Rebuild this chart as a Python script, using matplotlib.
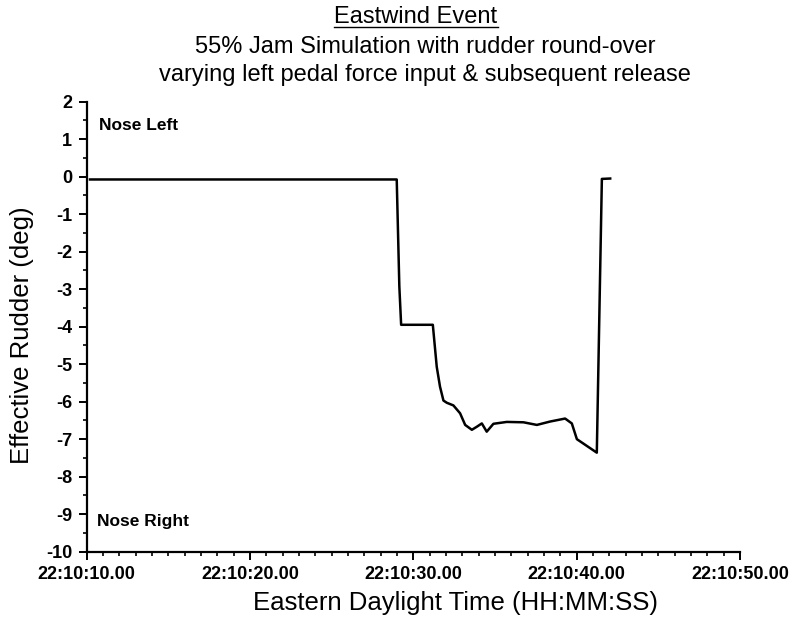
import matplotlib
matplotlib.use("Agg")
import matplotlib.pyplot as plt
from matplotlib.ticker import MultipleLocator, FuncFormatter
from matplotlib.lines import Line2D

plt.rcParams['font.family'] = ['Liberation Sans', 'DejaVu Sans']
plt.rcParams['axes.unicode_minus'] = False

# time in seconds after 22:10:00
t = [10.2, 20.0, 28.98, 29.14, 29.25, 31.19, 31.43, 31.63, 31.84, 32.05, 32.45, 32.86,
     33.17, 33.58, 33.88, 34.19, 34.49, 34.90, 35.72, 36.74, 37.56, 38.37, 39.29,
     39.70, 40.01, 41.23, 41.54, 42.05]
rudder = [-0.075, -0.075, -0.075, -2.93, -3.95, -3.95, -5.07, -5.60, -5.97, -6.03, -6.10, -6.31,
          -6.62, -6.75, -6.67, -6.58, -6.80, -6.59, -6.54, -6.55, -6.62, -6.53, -6.45,
          -6.58, -7.00, -7.36, -0.06, -0.05]

xticks = [10, 20, 30, 40, 50]
yticks = list(range(-10, 3))

fig = plt.figure(figsize=(7.92, 6.24), dpi=100)
ax = fig.add_axes([0.1095, 0.1159, 0.8249, 0.7212])
ax.plot(t, rudder, color='black', lw=1.8, solid_joinstyle='round')
ax.set_xlim(10, 50)
ax.set_ylim(-10, 2)
ax.set_xticks(xticks)
ax.xaxis.set_major_formatter(FuncFormatter(lambda v, p: "22:10:%02d.00" % int(round(v))))
ax.xaxis.set_minor_locator(MultipleLocator(1))
ax.set_yticks(yticks)
ax.yaxis.set_minor_locator(MultipleLocator(0.5))
for s in ['top', 'right']:
    ax.spines[s].set_visible(False)
for s in ['left', 'bottom']:
    ax.spines[s].set_linewidth(1.6)
ax.tick_params(which='major', direction='out', length=6, width=1.4, labelsize=13)
ax.tick_params(axis='x', which='major', pad=4)
ax.tick_params(axis='y', which='major', pad=4.5)
ax.tick_params(which='minor', direction='out', length=3.2, width=1.2)
for lab in ax.get_xticklabels() + ax.get_yticklabels():
    lab.set_fontweight('bold')

ax.set_xlabel("Eastern Daylight Time (HH:MM:SS)", fontsize=18.5)
ax.set_ylabel("Effective Rudder (deg)", fontsize=18.5)
ax.xaxis.set_label_coords((455 - 86.7) / 653.3, (551.7 - 603) / 450, transform=ax.transAxes)
ax.yaxis.set_label_coords((22 - 86.7) / 653.3, (551.7 - 335) / 450, transform=ax.transAxes)
ax.xaxis.label.set_va('center')
ax.yaxis.label.set_va('center')

ax.text(0.0193, 0.948, "Nose Left", transform=ax.transAxes, fontsize=12.5, fontweight='bold', va='center')
ax.text(0.0158, 0.068, "Nose Right", transform=ax.transAxes, fontsize=12.5, fontweight='bold', va='center')

t1 = fig.text(416 / 792, 0.972, "Eastwind Event", ha='center', va='center', fontsize=17)
fig.text(0.537, 0.925, "55% Jam Simulation with rudder round-over", ha='center', va='center', fontsize=17)
fig.text(0.537, 0.880, "varying left pedal force input & subsequent release", ha='center', va='center', fontsize=17)

fig.canvas.draw()
bb = t1.get_window_extent().transformed(fig.transFigure.inverted())
fig.add_artist(Line2D([bb.x0, bb.x1], [bb.y0 + 0.002, bb.y0 + 0.002], color='black', lw=1.0,
                      transform=fig.transFigure))

fig.savefig("out.png", dpi=100)
